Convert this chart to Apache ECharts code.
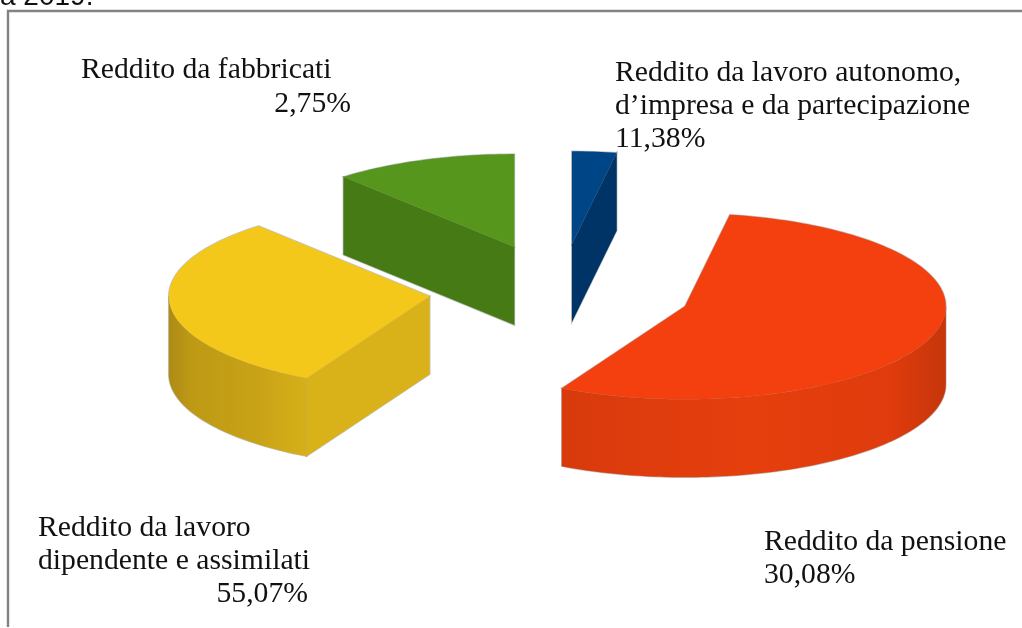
<!DOCTYPE html>
<html>
<head>
<meta charset="utf-8">
<style>html,body{margin:0;padding:0;background:#fff}#c{width:1022px;height:628px}</style>
<script src="https://cdn.jsdelivr.net/npm/echarts@6/dist/echarts.min.js"></script>
</head>
<body>
<div id="c"></div>
<script>
// Data: the slices as drawn, clockwise from 12 o'clock (sizes)
const sliceNames = ['Blu', 'Rosso', 'Giallo', 'Verde'];
const sliceValues = [2.75, 55.07, 30.80, 11.38];
// Colours
const topColors = ['#004586', '#f4400f', '#f3c81b', '#57961d'];
const cutColors = ['#003466', '#dc3a0d', '#d9b21a', '#467a14'];
const sideOffsets = [[0, 1], [0, 0.5, 0.86, 1], [0, 0.16, 0.62, 1], [0, 1]];
const sideColors = [
  ['#003466', '#003466'],
  ['#d83a0c', '#e63f0e', '#df3b0c', '#c5360b'],
  ['#ad8b15', '#bd9915', '#c8a216', '#d6b019'],
  ['#467a14', '#467a14']
];
// Text lines exactly as printed
const labelLines = [
  'Reddito da fabbricati', '2,75%',
  'Reddito da lavoro autonomo,', 'd\u2019impresa e da partecipazione', '11,38%',
  'Reddito da lavoro', 'dipendente e assimilati', '55,07%',
  'Reddito da pensione', '30,08%'
];
const labelX = [81, 351, 615, 615, 615, 38, 38, 308, 764, 764];
const labelY = [70, 104, 73, 106, 139, 528, 561, 594, 542, 575];
const labelAlign = ['left','right','left','left','left','left','left','right','left','left'];

// Pie geometry
const CX = 560.5, CY = 291, RX = 261, RY = 93, DEPTH = 78, EXPLODE = 0.504;

function pt(c, th, dy) {
  return [c[0] + RX * Math.sin(th), c[1] - RY * Math.cos(th) + (dy || 0)];
}
function arcPts(c, a, b, dy) {
  const n = Math.max(2, Math.ceil(Math.abs(b - a) / 0.02));
  const out = [];
  for (let i = 0; i <= n; i++) out.push(pt(c, a + (b - a) * i / n, dy));
  return out;
}
const total = sliceValues.reduce((s, v) => s + v, 0);
let run = 0;
const rows = sliceValues.map((v, i) => { const r = [v, run, i]; run += v; return r; });

function renderItem(params, api) {
  const v = api.value(0), before = api.value(1), i = api.value(2);
  const a = before / total * Math.PI * 2;
  const b = (before + v) / total * Math.PI * 2;
  const mid = (a + b) / 2;
  const c = [CX + EXPLODE * RX * Math.sin(mid), CY - EXPLODE * RY * Math.cos(mid)];
  const shapes = [];
  // cut faces: only those turned towards the viewer
  const faces = [];
  if (Math.sin(a) < -1e-6) faces.push(a);
  if (Math.sin(b) > 1e-6) faces.push(b);
  faces.forEach(th => {
    const p = pt(c, th);
    shapes.push({ points: [p, c, [c[0], c[1] + DEPTH], [p[0], p[1] + DEPTH]], fill: cutColors[i] });
  });
  // outer wall: the part of the rim facing the viewer
  const s = Math.max(a, Math.PI / 2), e = Math.min(b, Math.PI * 1.5);
  if (e > s) {
    const up = arcPts(c, s, e, 0), low = arcPts(c, s, e, DEPTH).reverse();
    const seq = sideColors[i].map((col, k) => ({ offset: sideOffsets[i][k], color: col }));
    shapes.push({ points: up.concat(low), fill: new echarts.graphic.LinearGradient(0, 0, 1, 0, seq) });
  }
  // top face
  shapes.push({ points: [c].concat(arcPts(c, a, b, 0)), fill: topColors[i] });

  // soft grey silhouette first, then the faces on top of it
  const kids = shapes.map(sh => ({ type: 'polygon', shape: { points: sh.points },
    style: { fill: 'none', stroke: 'rgba(150,150,150,0.6)', lineWidth: 1.4 } }));
  shapes.forEach(sh => kids.push({ type: 'polygon', shape: { points: sh.points },
    style: { fill: sh.fill, stroke: null } }));
  return { type: 'group', children: kids };
}

const texts = labelLines.map((t, i) => ({
  type: 'text', x: labelX[i], y: labelY[i],
  style: { text: t, fill: '#111', font: '29.7px "Liberation Serif"', textAlign: labelAlign[i], textVerticalAlign: 'middle' }
}));
const frame = {
  type: 'polyline', silent: true,
  shape: { points: [[8, 627], [8, 11], [1022, 11]] },
  style: { stroke: '#828282', lineWidth: 2.4, fill: null }
};
const clipped = {
  type: 'text', x: 0, y: -17,
  style: { text: 'a 2019.', fill: '#111', font: '28px "Liberation Sans"', textVerticalAlign: 'top' }
};

const chart = echarts.init(document.getElementById('c'), null, { renderer: 'canvas' });
chart.setOption({
  animation: false,
  backgroundColor: '#fff',
  graphic: [frame, clipped].concat(texts),
  series: [{
    type: 'custom',
    name: 'Reddito',
    coordinateSystem: 'none',
    silent: true,
    renderItem: renderItem,
    encode: { value: 0, itemName: 2 },
    data: rows
  }]
});
</script>
</body>
</html>
